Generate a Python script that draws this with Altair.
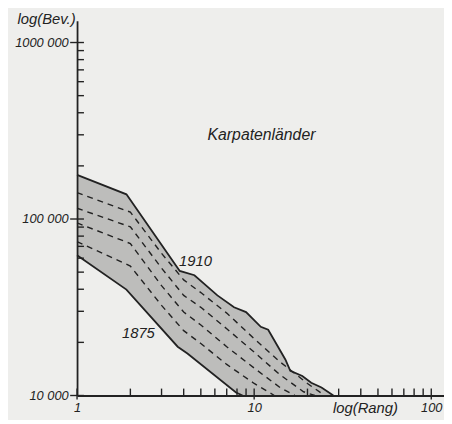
import altair as alt
import pandas as pd

# ---------------- data ----------------
rank_1910 = [1, 1.9, 3.8, 4.6, 6.2, 7.7, 9, 10.9, 12, 15, 16, 18.7, 21, 24, 28]
pop_1910 = [178000, 138000, 50800, 48000, 36900, 31600, 29700, 24500, 23600,
            16000, 13800, 12900, 11800, 11100, 10000]

rank_1875 = [1, 1.9, 3.7, 4.2, 7.9, 8.6]
pop_1875 = [62300, 39800, 18900, 17300, 10400, 10000]

dash_r1 = [1, 2, 3, 4, 5, 7, 10, 14, 20, 25]
dash_p1 = [141000, 109400, 63900, 45200, 38300, 29300, 21000, 15500, 11700, 10000]
dash_r2 = [1, 2, 3, 4, 5, 7, 10, 14, 19, 22]
dash_p2 = [115100, 90300, 52700, 36900, 31600, 23900, 17600, 13100, 10500, 10000]
dash_r3 = [1, 2, 3, 4, 5, 7, 10, 14, 17]
dash_p3 = [95000, 72600, 41900, 29700, 25100, 18900, 14300, 11100, 10000]
dash_r4 = [1, 2, 3, 4, 5, 7, 10, 13]
dash_p4 = [74500, 54100, 32400, 23300, 19700, 15000, 11700, 10000]

x_major = [1, 10, 100]
x_major_labels = ["1", "10", "100"]
x_minor = [2, 3, 4, 5, 6, 7, 8, 9, 20, 30, 40, 50, 60, 70, 80, 90]
y_major = [10000, 100000, 1000000]
y_major_labels = ["10 000", "100 000", "1000 000"]
y_minor = [20000, 30000, 40000, 50000, 60000, 70000, 80000, 90000,
           200000, 300000, 400000, 500000, 600000, 700000, 800000, 900000]

ann_text = ["Karpatenländer", "1910", "1875"]
ann_rank = [11.0, 4.66, 2.22]
ann_pop = [298000, 57500, 22500]
ann_size = [16, 15, 15]

# ---------------- styling ----------------
W, H = 372, 380
BG = "#eeeeec"
INK = "#222222"
STIPPLE = "#bdbdbb"
FONT = "Liberation Sans"

df_1910 = pd.DataFrame({"rank": rank_1910, "pop": pop_1910})
df_1875 = pd.DataFrame({"rank": rank_1875, "pop": pop_1875})
dash_rows = []
for i, (rr, pp) in enumerate([(dash_r1, dash_p1), (dash_r2, dash_p2),
                              (dash_r3, dash_p3), (dash_r4, dash_p4)]):
    for r, p in zip(rr, pp):
        dash_rows.append({"rank": r, "pop": p, "s": f"d{i}"})
df_dash = pd.DataFrame(dash_rows)
df_xmaj = pd.DataFrame({"rank": x_major})
df_xmin = pd.DataFrame({"rank": x_minor})
df_ymaj = pd.DataFrame({"pop": y_major})
df_ymin = pd.DataFrame({"pop": y_minor})
df_ann = pd.DataFrame({"t": ann_text, "rank": ann_rank, "pop": ann_pop, "fs": ann_size})


def expr_map(vals, labels):
    parts = " : ".join(f"datum.value == {v} ? '{l}'" for v, l in zip(vals, labels))
    return parts + " : ''"


xscale = alt.Scale(type="log", domain=[1, 118], nice=False)
yscale = alt.Scale(type="log", domain=[10000, 1330000], nice=False)

xaxis = alt.Axis(values=x_major, labelExpr=expr_map(x_major, x_major_labels),
                 ticks=False, grid=False, domainColor=INK, domainWidth=1.8,
                 labelFont=FONT, labelFontStyle="italic", labelFontSize=13,
                 labelColor=INK, labelPadding=6, labelFlush=False,
                 labelOverlap=False, labelBaseline="top",
                 title="log(Rang)", titleX=259, titleY=17, titleAlign="left",
                 titleBaseline="alphabetic", titleFont=FONT,
                 titleFontStyle="italic", titleFontWeight="normal",
                 titleFontSize=15, titleColor=INK, zindex=1)
yaxis = alt.Axis(values=y_major, labelExpr=expr_map(y_major, y_major_labels),
                 ticks=False, grid=False, domainColor=INK, domainWidth=1.8,
                 labelFont=FONT, labelFontStyle="italic", labelFontSize=13,
                 labelColor=INK, labelPadding=9, labelFlush=False,
                 labelOverlap=False,
                 title="log(Bev.)", titleAngle=0, titleX=-2, titleY=3,
                 titleAlign="right", titleBaseline="alphabetic", titleFont=FONT,
                 titleFontStyle="italic", titleFontWeight="normal",
                 titleFontSize=15, titleColor=INK, zindex=1)

X = alt.X("rank:Q", scale=xscale, axis=xaxis)
Y = alt.Y("pop:Q", scale=yscale, axis=yaxis, stack=None)
Xn = alt.X("rank:Q", scale=xscale)
Yn = alt.Y("pop:Q", scale=yscale, stack=None)
BASE = alt.Y2(datum=10000)

upper_fill = alt.Chart(df_1910).mark_area(color=STIPPLE, opacity=1).encode(
    x=X, y=Y, y2=BASE)
lower_mask = alt.Chart(df_1875).mark_area(color=BG, opacity=1).encode(
    x=Xn, y=Yn, y2=BASE)
dashed = alt.Chart(df_dash).mark_line(color=INK, strokeWidth=1.4,
                                      strokeDash=[6, 5]).encode(
    x=Xn, y=Yn, detail="s:N")
line_1910 = alt.Chart(df_1910).mark_line(color=INK, strokeWidth=1.8).encode(x=Xn, y=Yn)
line_1875 = alt.Chart(df_1875).mark_line(color=INK, strokeWidth=1.8).encode(x=Xn, y=Yn)

xt_min = alt.Chart(df_xmin).mark_rule(color=INK, strokeWidth=1.4).encode(
    x=Xn, y=alt.value(H - 7), y2=alt.value(H))
xt_maj = alt.Chart(df_xmaj).mark_rule(color=INK, strokeWidth=1.4).encode(
    x=Xn, y=alt.value(H - 7), y2=alt.value(H + 4))
yt_min = alt.Chart(df_ymin).mark_rule(color=INK, strokeWidth=1.4).encode(
    y=Yn, x=alt.value(0), x2=alt.value(7))
yt_maj = alt.Chart(df_ymaj).mark_rule(color=INK, strokeWidth=1.4).encode(
    y=Yn, x=alt.value(-7), x2=alt.value(7))

ann = alt.Chart(df_ann).mark_text(font=FONT, fontStyle="italic", color=INK,
                                  align="center", baseline="middle").encode(
    x=Xn, y=Yn, text="t:N", size=alt.Size("fs:Q", scale=None, legend=None))

chart = alt.layer(
    upper_fill, lower_mask, dashed, line_1910, line_1875,
    xt_min, xt_maj, yt_min, yt_maj, ann
).properties(
    width=W, height=H,
    autosize=alt.AutoSizeParams(type="none"),
    padding={"left": 70, "top": 10, "right": 0, "bottom": 22},
    background=BG,
).configure_view(stroke=None)

chart.save("out.html", embed_options={"renderer": "svg", "actions": False})
